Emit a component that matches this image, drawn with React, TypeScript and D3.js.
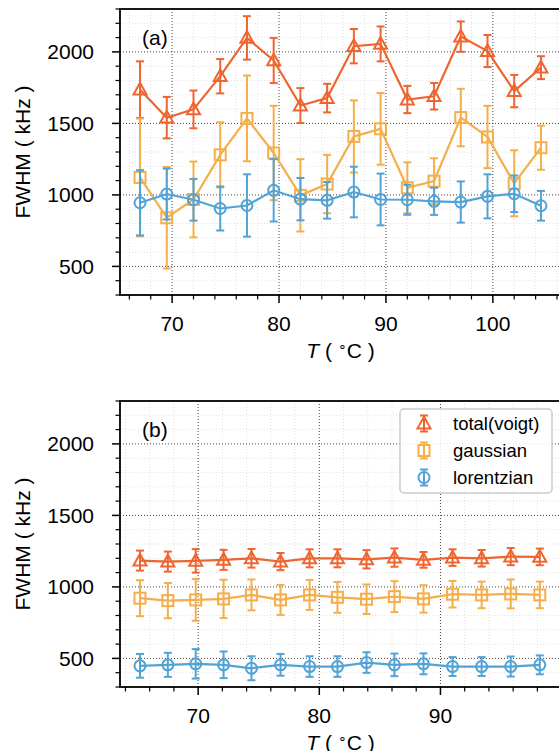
import React from "react";
import * as d3 from "d3";

// ---------- data ----------
const topT = [67, 69.5, 72, 74.5, 77, 79.5, 82, 84.5, 87, 89.5, 92, 94.5, 97, 99.5, 102, 104.5];
const topTotal = [1736, 1540, 1598, 1830, 2098, 1940, 1625, 1677, 2040, 2056, 1667, 1690, 2107, 2006, 1726, 1890];
const topTotalErr = [198, 145, 132, 120, 152, 158, 122, 100, 120, 122, 95, 93, 106, 112, 113, 80];
const topGauss = [1122, 840, 968, 1280, 1535, 1293, 997, 1076, 1409, 1462, 1050, 1096, 1541, 1405, 1081, 1330];
const topGaussErr = [412, 355, 265, 228, 300, 330, 253, 204, 252, 251, 178, 160, 201, 218, 231, 154];
const topLor = [945, 1006, 966, 905, 926, 1032, 970, 962, 1020, 968, 966, 955, 950, 990, 1008, 924];
const topLorErr = [228, 178, 146, 154, 218, 218, 148, 128, 177, 181, 105, 95, 144, 154, 128, 104];

const botT = [65.2, 67.5, 69.8, 72.1, 74.4, 76.8, 79.2, 81.5, 83.9, 86.2, 88.6, 91.0, 93.4, 95.8, 98.2];
const botTotal = [1184, 1177, 1182, 1189, 1200, 1177, 1200, 1200, 1193, 1205, 1189, 1205, 1200, 1212, 1210];
const botTotalErr = [70, 70, 82, 70, 65, 60, 63, 63, 64, 64, 55, 58, 58, 60, 58];
const botGauss = [921, 904, 909, 916, 944, 909, 944, 927, 914, 932, 916, 949, 944, 951, 944];
const botGaussErr = [126, 123, 146, 134, 108, 105, 105, 108, 103, 108, 96, 93, 93, 101, 93];
const botLor = [448, 455, 462, 455, 431, 455, 443, 443, 471, 455, 462, 443, 443, 443, 455];
const botLorErr = [83, 84, 103, 93, 84, 76, 72, 72, 72, 79, 73, 66, 66, 70, 66];

const seriesNames = ["total(voigt)", "gaussian", "lorentzian"];
const seriesColors = ["#ef6530", "#f4ae4a", "#51a3d6"];
const seriesMarkers = ["triangle", "square", "circle"];

const yMajorTicks = [500, 1000, 1500, 2000];
const topXTicks = [70, 80, 90, 100];
const botXTicks = [70, 80, 90];

const FONT = "'Liberation Sans', Arial, Helvetica, sans-serif";
const W = 559;
const H = 751;

function Marker({ type, x, y, color }: { type: string; x: number; y: number; color: string }) {
  if (type === "triangle") {
    const s = 6.5;
    const pts = `${x},${y - s * 1.05} ${x - s},${y + s * 0.75} ${x + s},${y + s * 0.75}`;
    return <polygon points={pts} fill="none" stroke={color} strokeWidth={2} strokeLinejoin="miter" />;
  }
  if (type === "square") {
    const s = 5.5;
    return <rect x={x - s} y={y - s} width={2 * s} height={2 * s} fill="none" stroke={color} strokeWidth={2} />;
  }
  return <circle cx={x} cy={y} r={5.5} fill="none" stroke={color} strokeWidth={2} />;
}

function Panel({
  top, xs, ys, errs, xDomain, xTicks, label, legend,
}: {
  top: number; xs: number[]; ys: number[][]; errs: number[][]; xDomain: [number, number];
  xTicks: number[]; label: string; legend: boolean;
}) {
  const left = 120;
  const width = 441;
  const height = 286;
  const x = d3.scaleLinear().domain(xDomain).range([left, left + width]);
  const y = d3.scaleLinear().domain([300, 2300]).range([top + height, top]);
  const yMinor = d3.range(300, 2301, 100).filter((v) => !yMajorTicks.includes(v));
  const xMinorAll = d3.range(Math.ceil(xDomain[0] / 2) * 2, xDomain[1], 2);
  const xMinor = xMinorAll.filter((v) => !xTicks.includes(v));
  const xMajorGrid = xTicks;
  const line = d3.line<[number, number]>().x((d) => x(d[0])).y((d) => y(d[1]));
  const bottom = top + height;
  const capW = 4;

  return (
    <g>
      {/* minor grid */}
      {yMinor.map((v) => (
        <line key={"ymg" + v} x1={left} x2={left + width} y1={y(v)} y2={y(v)} stroke="#d9d9d9" strokeWidth={0.8} strokeDasharray="1,2" />
      ))}
      {xMinor.map((v) => (
        <line key={"xmg" + v} x1={x(v)} x2={x(v)} y1={top} y2={bottom} stroke="#d9d9d9" strokeWidth={0.8} strokeDasharray="1,2" />
      ))}
      {/* major grid */}
      {yMajorTicks.map((v) => (
        <line key={"yg" + v} x1={left} x2={left + width} y1={y(v)} y2={y(v)} stroke="#444" strokeWidth={1} strokeDasharray="1,2" />
      ))}
      {xMajorGrid.map((v) => (
        <line key={"xg" + v} x1={x(v)} x2={x(v)} y1={top} y2={bottom} stroke="#444" strokeWidth={1} strokeDasharray="1,2" />
      ))}

      {/* series */}
      {ys.map((vals, si) => {
        const color = seriesColors[si];
        const pts = xs.map((t, i) => [t, vals[i]] as [number, number]);
        return (
          <g key={"s" + si}>
            <path d={line(pts) || ""} fill="none" stroke={color} strokeWidth={2.2} />
            {pts.map((p, i) => {
              const e = errs[si][i];
              const cx = x(p[0]);
              const y1 = y(p[1] + e);
              const y2 = y(p[1] - e);
              return (
                <g key={"e" + i}>
                  <line x1={cx} x2={cx} y1={y1} y2={y2} stroke={color} strokeWidth={2} />
                  <line x1={cx - capW} x2={cx + capW} y1={y1} y2={y1} stroke={color} strokeWidth={2} />
                  <line x1={cx - capW} x2={cx + capW} y1={y2} y2={y2} stroke={color} strokeWidth={2} />
                  <Marker type={seriesMarkers[si]} x={cx} y={y(p[1])} color={color} />
                </g>
              );
            })}
          </g>
        );
      })}

      {/* spines */}
      <rect x={left} y={top} width={width} height={height} fill="none" stroke="#000" strokeWidth={1.8} />

      {/* y ticks */}
      {yMajorTicks.map((v) => (
        <g key={"yt" + v}>
          <line x1={left - 8} x2={left} y1={y(v)} y2={y(v)} stroke="#000" strokeWidth={1.5} />
          <text x={left - 26} y={y(v)} dy="0.36em" textAnchor="end" fontFamily={FONT} fontSize={21}>{v}</text>
        </g>
      ))}
      {yMinor.map((v) => (
        <line key={"ymt" + v} x1={left - 4.5} x2={left} y1={y(v)} y2={y(v)} stroke="#000" strokeWidth={1.2} />
      ))}
      {/* x ticks */}
      {xTicks.map((v) => (
        <g key={"xt" + v}>
          <line x1={x(v)} x2={x(v)} y1={bottom} y2={bottom + 8} stroke="#000" strokeWidth={1.5} />
          <text x={x(v)} y={bottom + 28} dy="0.36em" textAnchor="middle" fontFamily={FONT} fontSize={21}>{v}</text>
        </g>
      ))}
      {xMinor.map((v) => (
        <line key={"xmt" + v} x1={x(v)} x2={x(v)} y1={bottom} y2={bottom + 4.5} stroke="#000" strokeWidth={1.2} />
      ))}

      {/* panel label */}
      <text x={142} y={top + 36} fontFamily={FONT} fontSize={21}>{label}</text>

      {/* axis labels */}
      <text transform={`translate(22.5, ${top + height / 2}) rotate(-90)`} textAnchor="middle" dy="0.36em" fontFamily={FONT} fontSize={21}>
        FWHM ( kHz )
      </text>
      <text x={left + width / 2} y={bottom + 55} dy="0.36em" textAnchor="middle" fontFamily={FONT} fontSize={21}>
        <tspan fontStyle="italic">T</tspan>
        <tspan> ( </tspan>
        <tspan fontSize={14} dy={-7}>∘</tspan>
        <tspan dy={7}>C )</tspan>
      </text>

      {legend && (
        <g>
          <rect x={400} y={top + 8} width={152} height={84} rx={4} fill="#fff" fillOpacity={0.85} stroke="#cccccc" strokeWidth={1.5} />
          {seriesNames.map((n, i) => {
            const ly = top + 22.5 + i * 27;
            const lx = 424;
            const color = seriesColors[i];
            return (
              <g key={"lg" + i}>
                <line x1={lx} x2={lx} y1={ly - 8} y2={ly + 8} stroke={color} strokeWidth={2} />
                <line x1={lx - capW} x2={lx + capW} y1={ly - 8} y2={ly - 8} stroke={color} strokeWidth={2} />
                <line x1={lx - capW} x2={lx + capW} y1={ly + 8} y2={ly + 8} stroke={color} strokeWidth={2} />
                <Marker type={seriesMarkers[i]} x={lx} y={ly} color={color} />
                <text x={453} y={ly} dy="0.36em" fontFamily={FONT} fontSize={18.5}>{n}</text>
              </g>
            );
          })}
        </g>
      )}
    </g>
  );
}

export default function App() {
  return (
    <svg width={W} height={H} style={{ position: "absolute", left: 0, top: 0, display: "block", background: "#fff" }}>
      <rect x={0} y={0} width={W} height={H} fill="#fff" />
      <Panel
        top={9}
        xs={topT}
        ys={[topTotal, topGauss, topLor]}
        errs={[topTotalErr, topGaussErr, topLorErr]}
        xDomain={[65.125, 106.375]}
        xTicks={topXTicks}
        label="(a)"
        legend={false}
      />
      <Panel
        top={401}
        xs={botT}
        ys={[botTotal, botGauss, botLor]}
        errs={[botTotalErr, botGaussErr, botLorErr]}
        xDomain={[63.55, 99.95]}
        xTicks={botXTicks}
        label="(b)"
        legend={true}
      />
    </svg>
  );
}
